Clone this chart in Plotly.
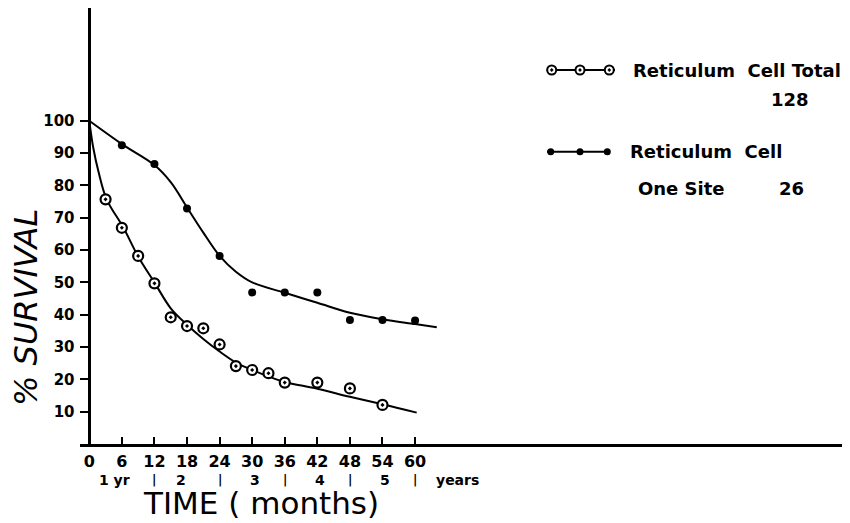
import plotly.graph_objects as go

# ---------------- data ----------------
month_ticks = [0, 6, 12, 18, 24, 30, 36, 42, 48, 54, 60]
survival_ticks = [10, 20, 30, 40, 50, 60, 70, 80, 90, 100]

year_row_text = ["1 yr", "|", "2", "|", "3", "|", "4", "|", "5", "|", "years"]
year_row_month = [4.7, 12, 16.8, 24, 30.6, 36, 42.5, 48, 54.5, 60, 67.8]

# Reticulum Cell Total (128) - open circles
total_months = [3, 6, 9, 12, 15, 18, 21, 24, 27, 30, 33, 36, 42, 48, 54]
total_surv = [75.7, 66.9, 58.2, 49.7, 39.2, 36.5, 35.8, 30.8, 24.1, 22.9, 21.9, 19.0, 19.0, 17.2, 12.1]

# smooth curve drawn through the Total points
total_fit_months = [0, 0.75, 1.7, 3.2, 6.3, 9, 12.1, 15, 18.2, 21, 24, 27, 30, 33, 36, 42, 48, 54, 60.3]
total_fit_surv = [100, 91.5, 84.2, 75.7, 66.9, 58.0, 49.7, 42.0, 36.6, 32.5, 28.6, 25.2, 22.9, 20.9, 19.2, 17.1, 14.6, 12.3, 9.7]

# Reticulum Cell One Site (26) - filled dots
site_months = [6, 12, 18, 24, 30, 36, 42, 48, 54, 60]
site_surv = [92.4, 86.6, 72.9, 58.2, 46.9, 46.9, 46.9, 38.4, 38.4, 38.2]

# smooth curve drawn through the One Site points
site_fit_months = [0, 6, 12, 15, 18, 21, 24, 27, 30, 36, 42, 48, 54, 60, 64]
site_fit_surv = [100, 92.8, 86.3, 81.0, 73.2, 65.4, 58.2, 53.3, 50.0, 46.8, 43.7, 40.6, 38.6, 37.1, 36.1]

# ---------------- styling ----------------
FONT = "DejaVu Sans"
BLACK = "#000000"
PAGE_OFFSET = 8                 # the page body margin shifts the figure by this much
L, R, T, B = 80, 850, 8, 444    # plot-area edges as seen on the page (pixels)
FIG_W, FIG_H = 850 - PAGE_OFFSET, 523 - PAGE_OFFSET


def px_x(v):
    return (v - L) / (R - L)


def px_y(v):
    return (B - v) / (B - T)


fig = go.Figure()

# fitted curves
fig.add_trace(go.Scatter(x=total_fit_months, y=total_fit_surv, mode="lines",
                         line=dict(color=BLACK, width=2, shape="spline", smoothing=1.0),
                         hoverinfo="skip", showlegend=False))
fig.add_trace(go.Scatter(x=site_fit_months, y=site_fit_surv, mode="lines",
                         line=dict(color=BLACK, width=2, shape="spline", smoothing=1.0),
                         hoverinfo="skip", showlegend=False))

# points
fig.add_trace(go.Scatter(x=total_months, y=total_surv, mode="markers",
                         marker=dict(symbol="circle-dot", size=10, color="white",
                                     line=dict(color=BLACK, width=2.2)),
                         name="Reticulum Cell Total 128", showlegend=False))
fig.add_trace(go.Scatter(x=site_months, y=site_surv, mode="markers",
                         marker=dict(symbol="circle", size=8, color=BLACK),
                         name="Reticulum Cell One Site 26", showlegend=False))

# ---------------- hand-drawn legend (pixel canvas overlay) ----------------
leg_open_x = [551.7, 580, 609.3]
leg_fill_x = [550.7, 580, 607.3]
fig.add_trace(go.Scatter(x=[546.7, 615], y=[70, 70], mode="lines", xaxis="x2", yaxis="y2",
                         line=dict(color=BLACK, width=2), hoverinfo="skip", showlegend=False))
fig.add_trace(go.Scatter(x=leg_open_x, y=[70] * 3, mode="markers", xaxis="x2", yaxis="y2",
                         marker=dict(symbol="circle-dot", size=9, color="white",
                                     line=dict(color=BLACK, width=2)),
                         hoverinfo="skip", showlegend=False))
fig.add_trace(go.Scatter(x=[547, 609], y=[151.7, 151.7], mode="lines", xaxis="x2", yaxis="y2",
                         line=dict(color=BLACK, width=2), hoverinfo="skip", showlegend=False))
fig.add_trace(go.Scatter(x=leg_fill_x, y=[151.7] * 3, mode="markers", xaxis="x2", yaxis="y2",
                         marker=dict(symbol="circle", size=7, color=BLACK),
                         hoverinfo="skip", showlegend=False))

annotations = []


def txt(text, x, y, size, xanchor="left", angle=0, italic=False, bold=True):
    t = text
    if italic:
        t = "<i>" + t + "</i>"
    annotations.append(dict(text=t, x=px_x(x), y=px_y(y), xref="paper", yref="paper",
                            xanchor=xanchor, yanchor="middle", showarrow=False, textangle=angle,
                            font=dict(family=FONT, size=size, color=BLACK,
                                      weight="bold" if bold else "normal")))


txt("Reticulum&nbsp;&nbsp;Cell Total", 631, 70, 18)
txt("128", 769, 99.5, 18)
txt("Reticulum&nbsp;&nbsp;Cell", 628, 151.7, 18)
txt("One Site", 636, 188.3, 18)
txt("26", 777, 188.3, 18)

# second tick row (years), placed at month positions
for t, m in zip(year_row_text, year_row_month):
    annotations.append(dict(text=t, x=m, y=px_y(480.5), xref="x", yref="paper", xanchor="center",
                            yanchor="middle", showarrow=False,
                            font=dict(family=FONT, size=14 if t != "|" else 12, color=BLACK,
                                      weight="bold")))

# axis titles
txt("TIME ( months)", 260.5, 503, 31, xanchor="center", bold=False)
txt("% SURVIVAL", 26, 308, 32, xanchor="center", angle=-90, italic=True, bold=False)

fig.update_layout(
    width=FIG_W, height=FIG_H,
    margin=dict(l=L - PAGE_OFFSET, r=850 - R, t=T - PAGE_OFFSET, b=FIG_H - (B - PAGE_OFFSET),
                pad=0, autoexpand=False),
    paper_bgcolor="white", plot_bgcolor="white",
    font=dict(family=FONT, color=BLACK),
    showlegend=False,
    annotations=annotations,
    xaxis=dict(range=[-1.71, 140.1], tickvals=month_ticks, ticktext=[str(v) for v in month_ticks],
               ticks="inside", ticklen=7, tickwidth=2, tickcolor=BLACK,
               showline=True, linewidth=2.5, linecolor=BLACK, automargin=False,
               showgrid=False, zeroline=False,
               tickfont=dict(family=FONT, size=16, color=BLACK, weight="bold"),
               ticklabelstandoff=1, fixedrange=True),
    yaxis=dict(range=[0, 134.9], anchor="free", position=9.3 / 770,
               tickvals=survival_ticks, ticktext=[str(v) for v in survival_ticks],
               ticks="outside", ticklen=9, tickwidth=2, tickcolor=BLACK,
               showline=True, linewidth=2.5, linecolor=BLACK, automargin=False,
               showgrid=False, zeroline=False,
               tickfont=dict(family=FONT, size=15, color=BLACK, weight="bold"),
               ticklabelstandoff=2, fixedrange=True),
    xaxis2=dict(range=[L, R], overlaying="x", anchor="y2", visible=False, fixedrange=True),
    yaxis2=dict(range=[B, T], overlaying="y", anchor="x2", visible=False, fixedrange=True),
)

fig.write_html("out.html")
